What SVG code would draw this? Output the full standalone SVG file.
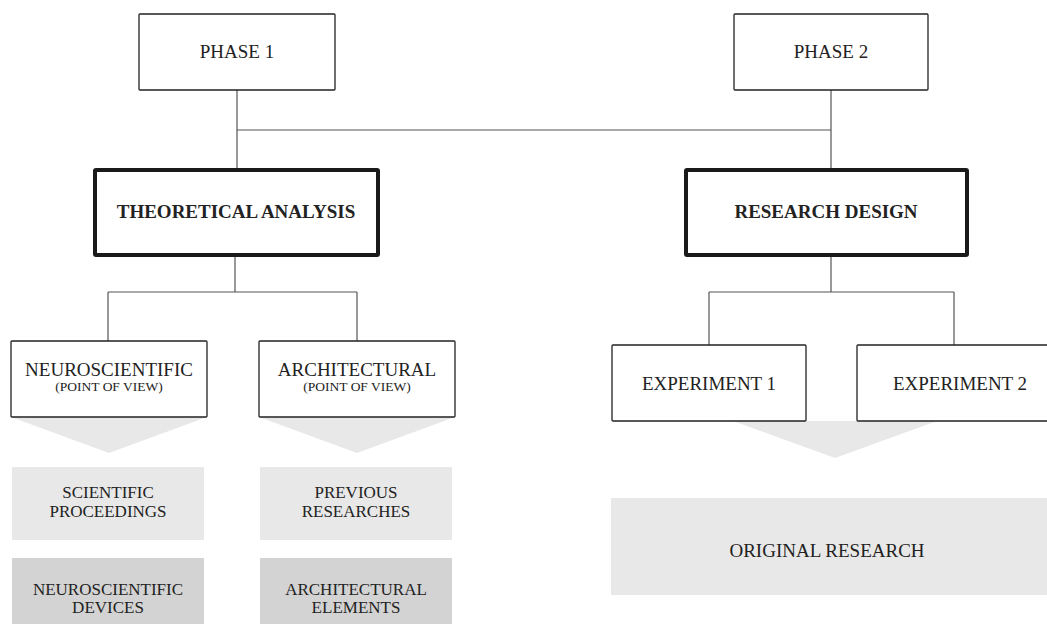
<svg xmlns="http://www.w3.org/2000/svg" width="1047" height="625" viewBox="0 0 1047 625">
  <style>
    text { font-family: "Liberation Serif", "DejaVu Serif", serif; fill: #222; text-anchor: middle; }
    .lbl { font-size: 19px; }
    .bold { font-size: 19px; font-weight: bold; }
    .sub { font-size: 13.5px; }
    .res { font-size: 17px; }
    .box { fill: #fff; stroke: #222; stroke-width: 1.3; }
    .main { fill: #fff; stroke: #1a1a1a; stroke-width: 4; }
    .light { fill: #e8e8e8; }
    .dark { fill: #d3d3d3; }
    .wire { fill: none; stroke: #555; stroke-width: 1.2; }
  </style>

  <!-- connectors -->
  <g id="connectors">
    <path class="wire" d="M237,90 V168 M831,90 V168 M237,130 H831"/>
    <path class="wire" d="M235,257 V292 M108,292 H357 M108,292 V341 M357,292 V341"/>
    <path class="wire" d="M831,257 V292 M709,292 H954 M709,292 V345 M954,292 V345"/>
  </g>

  <!-- downward chevrons -->
  <g id="chevrons">
    <polygon class="light" points="11,417 207,417 109,453"/>
    <polygon class="light" points="259,417 455,417 357,453"/>
    <polygon class="light" points="733,421 937,421 835,458"/>
  </g>

  <g id="phase1">
    <rect class="box" x="139" y="14" width="196" height="76" rx="1"/>
    <text class="lbl" x="237" y="58">PHASE 1</text>
  </g>
  <g id="phase2">
    <rect class="box" x="734" y="14" width="194" height="76" rx="1"/>
    <text class="lbl" x="831" y="58">PHASE 2</text>
  </g>

  <g id="theoretical-analysis">
    <rect class="main" x="95" y="170" width="283" height="85" rx="1"/>
    <text class="bold" x="236" y="218">THEORETICAL ANALYSIS</text>
  </g>
  <g id="research-design">
    <rect class="main" x="686" y="170" width="281" height="85" rx="1"/>
    <text class="bold" x="826" y="218">RESEARCH DESIGN</text>
  </g>

  <g id="neuroscientific">
    <rect class="box" x="11" y="341" width="196" height="76" rx="1"/>
    <text class="lbl" x="109" y="376">NEUROSCIENTIFIC</text>
    <text class="sub" x="109" y="391">(POINT OF VIEW)</text>
  </g>
  <g id="architectural">
    <rect class="box" x="259" y="341" width="196" height="76" rx="1"/>
    <text class="lbl" x="357" y="376">ARCHITECTURAL</text>
    <text class="sub" x="357" y="391">(POINT OF VIEW)</text>
  </g>

  <g id="experiment1">
    <rect class="box" x="612" y="345" width="194" height="76" rx="1"/>
    <text class="lbl" x="709" y="390">EXPERIMENT 1</text>
  </g>
  <g id="experiment2">
    <rect class="box" x="857" y="345" width="200" height="76" rx="1"/>
    <text class="lbl" x="960" y="390">EXPERIMENT 2</text>
  </g>

  <g id="scientific-proceedings">
    <rect class="light" x="12" y="467" width="192" height="73"/>
    <text class="res" x="108" y="498">SCIENTIFIC</text>
    <text class="res" x="108" y="517">PROCEEDINGS</text>
  </g>
  <g id="previous-researches">
    <rect class="light" x="260" y="467" width="192" height="73"/>
    <text class="res" x="356" y="498">PREVIOUS</text>
    <text class="res" x="356" y="517">RESEARCHES</text>
  </g>
  <g id="neuroscientific-devices">
    <rect class="dark" x="12" y="558" width="192" height="66"/>
    <text class="res" x="108" y="595">NEUROSCIENTIFIC</text>
    <text class="res" x="108" y="613">DEVICES</text>
  </g>
  <g id="architectural-elements">
    <rect class="dark" x="260" y="558" width="192" height="66"/>
    <text class="res" x="356" y="595">ARCHITECTURAL</text>
    <text class="res" x="356" y="613">ELEMENTS</text>
  </g>

  <g id="original-research">
    <rect class="light" x="611" y="498" width="436" height="97"/>
    <text class="lbl" x="827" y="557">ORIGINAL RESEARCH</text>
  </g>
</svg>
